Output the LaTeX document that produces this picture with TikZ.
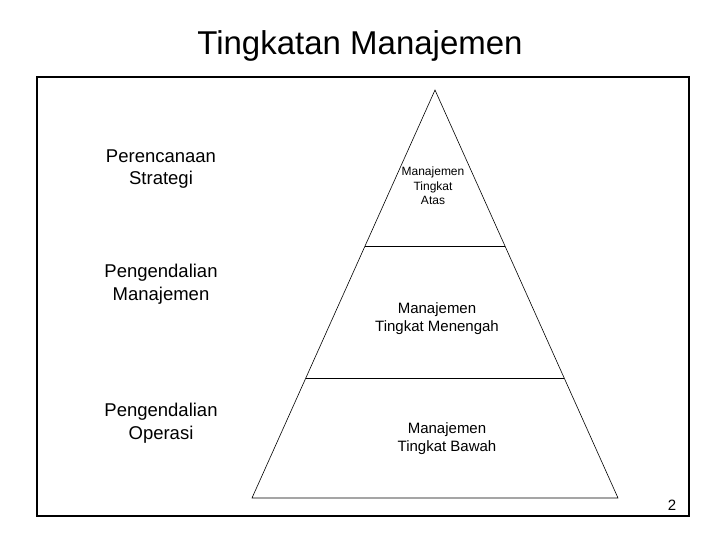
\documentclass[tikz,border=0pt]{standalone}
\usepackage{fontspec}
\setmainfont{Liberation Sans}
\usetikzlibrary{positioning,calc}

\begin{document}
\begin{tikzpicture}[
    x=1pt, y=-1pt,
    title/.style={font=\fontsize{33}{37}\selectfont},
    side/.style={align=center, font=\fontsize{18.5}{22.5}\selectfont},
    level/.style={align=center, font=\fontsize{15}{18}\selectfont},
    toplevel/.style={align=center, font=\fontsize{12}{14.5}\selectfont},
    frame/.style={draw, line width=1.1pt},
    pyr/.style={draw, line width=0.6pt}
]
\useasboundingbox (0,0) rectangle (720,540);

% judul
\node[title] (judul) at (360,46) {Tingkatan Manajemen};

% bingkai
\draw[frame] (37,77) rectangle (689,516);

% piramida
\coordinate (puncak) at (435,90);
\coordinate (kiri) at (252,498);
\coordinate (kanan) at (618,498);
\draw[pyr] (puncak) -- (kiri) -- (kanan) -- cycle;

% garis batas tingkat
\coordinate (a1) at ($(puncak)!0.382!(kiri)$);
\coordinate (a2) at ($(puncak)!0.382!(kanan)$);
\coordinate (b1) at ($(puncak)!0.706!(kiri)$);
\coordinate (b2) at ($(puncak)!0.706!(kanan)$);
\draw[pyr] (a1) -- (a2);
\draw[pyr] (b1) -- (b2);

% tingkat manajemen
\node[toplevel] (atas) at (433,186) {Manajemen\\Tingkat\\Atas};
\node[level] (menengah) at (437,319) {Manajemen\\Tingkat Menengah};
\node[level] (bawah) at (447,439) {Manajemen\\Tingkat Bawah};

% fungsi
\node[side] (strategi) at (161,169) {Perencanaan\\Strategi};
\node[side] (kendali) at (161,284) {Pengendalian\\Manajemen};
\node[side] (operasi) at (161,423) {Pengendalian\\Operasi};

% nomor halaman
\node[font=\fontsize{15}{18}\selectfont] (hal) at (672,505) {2};

\end{tikzpicture}
\end{document}
